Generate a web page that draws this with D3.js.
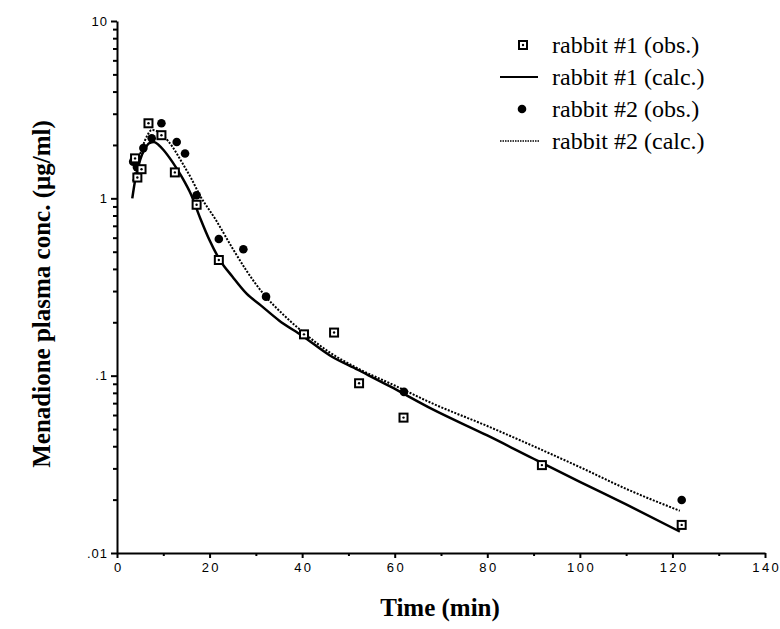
<!DOCTYPE html>
<html>
<head>
<meta charset="utf-8">
<script src="https://cdn.jsdelivr.net/npm/d3@7"></script>
<style>
  html, body { margin: 0; padding: 0; background: #fff; }
  svg { display: block; }
</style>
</head>
<body>
<div id="chart"></div>
<script>
// ---- data ----
const obs1Time = [3.9, 4.4, 5.3, 6.8, 9.6, 12.5, 17.2, 22.0, 40.4, 46.9, 52.3, 61.9, 91.8, 122.0];
const obs1Conc = [1.68, 1.31, 1.46, 2.65, 2.27, 1.40, 0.92, 0.449, 0.171, 0.175, 0.0906, 0.058, 0.0313, 0.0144];

const obs2Time = [3.5, 4.3, 5.7, 7.5, 9.6, 12.9, 14.7, 17.2, 22.0, 27.3, 32.2, 62.0, 91.8, 122.0];
const obs2Conc = [1.61, 1.50, 1.92, 2.18, 2.65, 2.08, 1.79, 1.04, 0.59, 0.516, 0.279, 0.081, 0.0313, 0.0199];

const calc1Time = [3.3, 4, 5, 6, 7, 8, 9, 10, 12, 14, 16, 18, 20, 22.2, 25, 28, 31, 35, 40, 46, 52, 59, 68, 80, 90, 100, 110, 121.6];
const calc1Conc = [1.0, 1.3, 1.65, 1.9, 2.05, 2.08, 2.0, 1.88, 1.6, 1.32, 1.05, 0.77, 0.58, 0.45, 0.36, 0.29, 0.25, 0.205, 0.168, 0.13, 0.108, 0.087, 0.065, 0.046, 0.034, 0.0252, 0.0188, 0.0132];

const calc2Time = [3.5, 4.5, 5.5, 6.5, 7.5, 8.5, 10, 12, 14, 16, 18, 21.3, 25, 28, 31.6, 36, 40.3, 46, 52, 60, 68, 80, 90, 100, 110, 121.6];
const calc2Conc = [1.25, 1.6, 1.95, 2.25, 2.43, 2.4, 2.25, 1.95, 1.6, 1.3, 1.03, 0.76, 0.52, 0.39, 0.29, 0.22, 0.175, 0.135, 0.11, 0.088, 0.07, 0.052, 0.04, 0.0305, 0.023, 0.0173];

const xTicks = [0, 20, 40, 60, 80, 100, 120, 140];
const xMinorTicks = [10, 30, 50, 70, 90, 110, 130];
const yTicks = [10, 1, 0.1, 0.01];
const yTickLabels = ["10", "1", ".1", ".01"];
const yMinorTicks = [2,3,4,5,6,7,8,9].flatMap(m => [0.01, 0.1, 1].map(d => m * d));

const legendLabels = ["rabbit #1 (obs.)", "rabbit #1 (calc.)", "rabbit #2 (obs.)", "rabbit #2 (calc.)"];
const xTitle = "Time (min)";
const yTitle = "Menadione plasma conc. (\u03bcg/ml)";

// ---- drawing ----
const W = 780, H = 629;
const svg = d3.select("#chart").append("svg").attr("width", W).attr("height", H);

const x = d3.scaleLinear().domain([0, 140]).range([117, 765]);
const y = d3.scaleLog().domain([0.01, 10]).range([553, 21]);

const tickFont = "Arial, 'Liberation Sans', Helvetica, sans-serif";
const serif = "'Liberation Serif', 'Times New Roman', Times, serif";

// x axis
const xAxisG = svg.append("g").attr("transform", `translate(0,${y(0.01)})`)
  .call(d3.axisBottom(x).tickValues(xTicks).tickSize(5).tickSizeOuter(0).tickFormat(d3.format("d")));
svg.append("g").attr("transform", `translate(0,${y(0.01)})`)
  .call(d3.axisBottom(x).tickValues(xMinorTicks).tickSize(3).tickSizeOuter(0).tickFormat(""))
  .select(".domain").remove();
xAxisG.selectAll("text")
  .attr("font-family", tickFont).attr("font-size", 13)
  .attr("letter-spacing", "2.4px").attr("dx", "1.2px").attr("dy", "0.85em")
  .attr("fill", "#000");

// y axis
const yAxisG = svg.append("g").attr("transform", `translate(${x(0)},0)`)
  .call(d3.axisLeft(y).tickValues(yTicks).tickSize(6).tickSizeOuter(0)
    .tickFormat((d, i) => yTickLabels[i]));
svg.append("g").attr("transform", `translate(${x(0)},0)`)
  .call(d3.axisLeft(y).tickValues(yMinorTicks).tickSize(4).tickSizeOuter(0).tickFormat(""))
  .select(".domain").remove();
yAxisG.selectAll("text")
  .attr("font-family", tickFont).attr("font-size", 13)
  .attr("letter-spacing", "1px").attr("fill", "#000");

svg.selectAll(".domain").attr("stroke", "#000").attr("stroke-width", 2);
svg.selectAll(".tick line").attr("stroke", "#000").attr("stroke-width", 2);

// curves
const line = d3.line().x(d => x(d[0])).y(d => y(d[1])).curve(d3.curveMonotoneX);
svg.append("path").datum(d3.zip(calc1Time, calc1Conc))
  .attr("d", line).attr("fill", "none").attr("stroke", "#000").attr("stroke-width", 2.5);
svg.append("path").datum(d3.zip(calc2Time, calc2Conc))
  .attr("d", line).attr("fill", "none").attr("stroke", "#000").attr("stroke-width", 2)
  .attr("stroke-dasharray", "2,1.5");

// markers
function square(g, cx, cy) {
  g.append("rect").attr("x", cx - 4).attr("y", cy - 4).attr("width", 8).attr("height", 8)
    .attr("fill", "#fff").attr("stroke", "#000").attr("stroke-width", 2);
  g.append("circle").attr("cx", cx).attr("cy", cy).attr("r", 1.2).attr("fill", "#000");
}
const pts = svg.append("g");
d3.zip(obs2Time, obs2Conc).forEach(d => {
  pts.append("circle").attr("cx", x(d[0])).attr("cy", y(d[1])).attr("r", 4.3).attr("fill", "#000");
});
d3.zip(obs1Time, obs1Conc).forEach(d => square(pts, x(d[0]), y(d[1])));

// legend
const lg = svg.append("g");
const textBase = [53, 85, 117, 149];
const markY = [45, 77, 109, 141];
square(lg, 523, markY[0]);
lg.append("line").attr("x1", 500).attr("x2", 538).attr("y1", markY[1]).attr("y2", markY[1])
  .attr("stroke", "#000").attr("stroke-width", 2);
lg.append("circle").attr("cx", 522).attr("cy", markY[2]).attr("r", 4.3).attr("fill", "#000");
lg.append("line").attr("x1", 500).attr("x2", 539).attr("y1", markY[3]).attr("y2", markY[3])
  .attr("stroke", "#000").attr("stroke-width", 1.5).attr("stroke-dasharray", "1.5,1");
legendLabels.forEach((t, i) => {
  lg.append("text").attr("x", 552).attr("y", textBase[i]).text(t)
    .attr("font-family", serif).attr("font-size", 24).attr("fill", "#000");
});

// axis titles
svg.append("text").attr("x", 440).attr("y", 616).attr("text-anchor", "middle")
  .attr("font-family", serif).attr("font-size", 25).attr("font-weight", "bold").text(xTitle);
svg.append("text").attr("transform", "translate(50,294) rotate(-90)").attr("text-anchor", "middle")
  .attr("font-family", serif).attr("font-size", 25).attr("font-weight", "bold").text(yTitle);
</script>
</body>
</html>
